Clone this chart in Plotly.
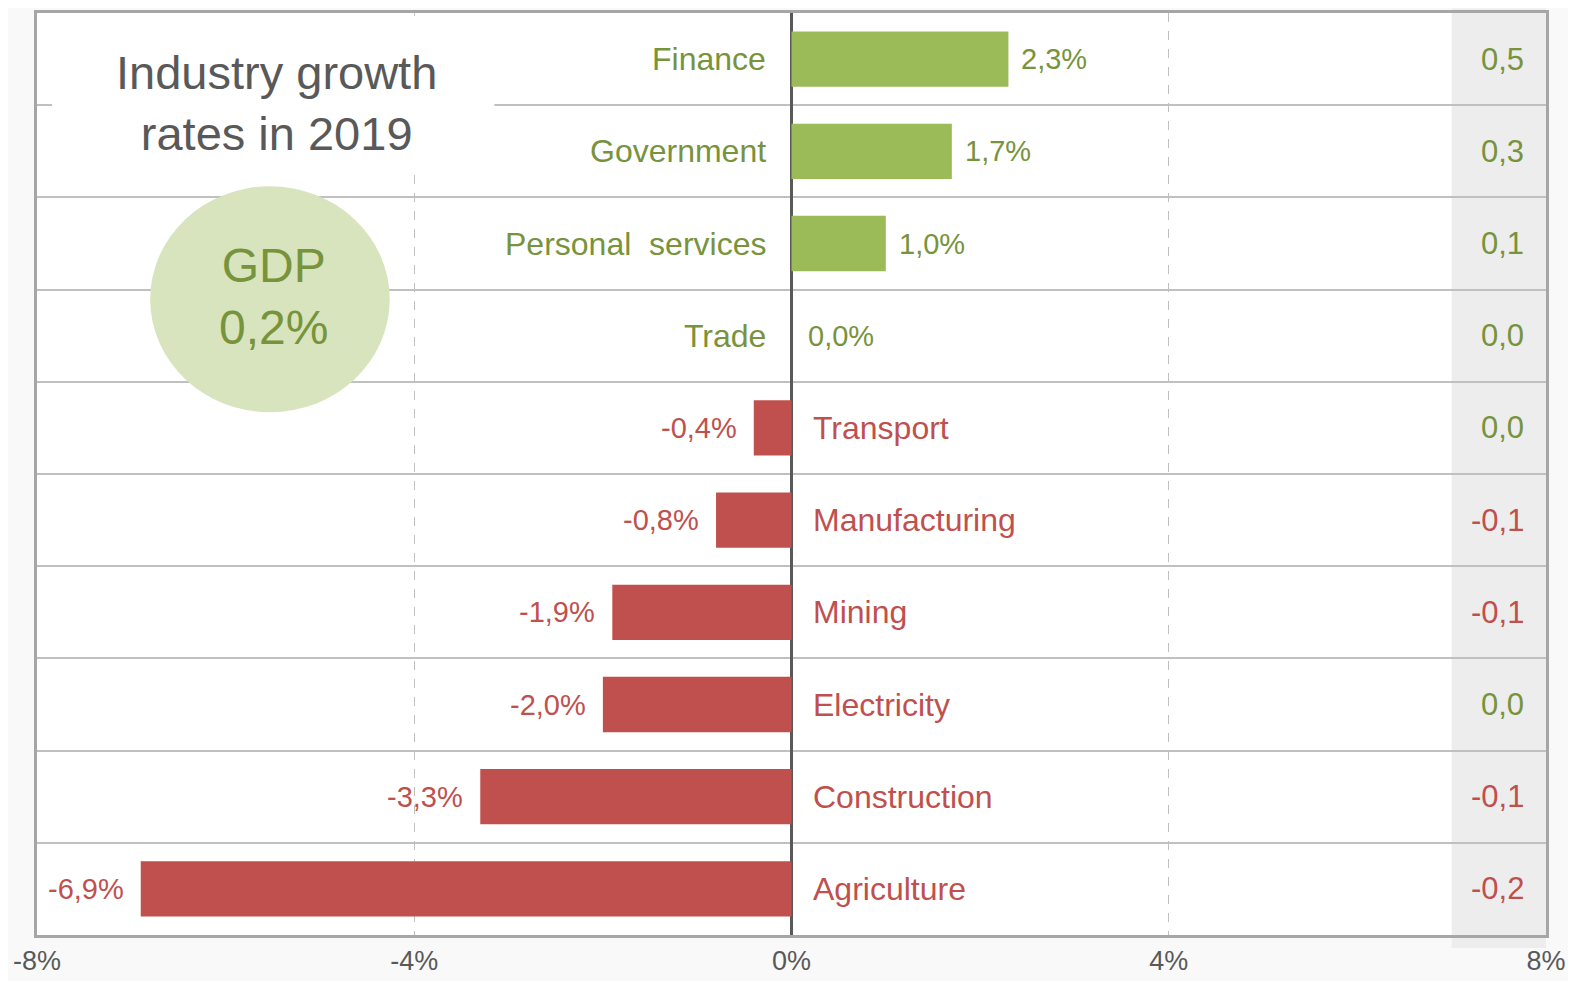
import plotly.graph_objects as go

# data
industries = ["Finance", "Government", "Personal  services", "Trade", "Transport",
              "Manufacturing", "Mining", "Electricity", "Construction", "Agriculture"]
growth = [2.3, 1.7, 1.0, 0.0, -0.4, -0.8, -1.9, -2.0, -3.3, -6.9]
contribution = [0.5, 0.3, 0.1, 0.0, 0.0, -0.1, -0.1, 0.0, -0.1, -0.2]
tick_vals = [-8, -4, 0, 4, 8]
tick_text = ["-8%", "-4%", "0%", "4%", "8%"]
gdp_growth = "0,2%"

GREEN_BAR = "#9bbb59"
GREEN_TXT = "#77933c"
RED = "#c0504d"
GREY_TXT = "#595959"
FONT = "Arial, Liberation Sans, sans-serif"


def fmt(v, pct=True):
    s = f"{v:.1f}".replace(".", ",")
    return s + "%" if pct else s


colors = [GREEN_BAR if v >= 0 else RED for v in growth]

fig = go.Figure(
    go.Bar(
        x=growth,
        y=industries,
        orientation="h",
        width=0.6,
        marker=dict(color=colors, line=dict(width=0)),
        hoverinfo="x+y",
    )
)

annotations = []
for name, v, c in zip(industries, growth, contribution):
    txt_col = GREEN_TXT if v >= 0 else RED
    # category label on the opposite side of the bar
    if v >= 0:
        annotations.append(dict(x=0, y=name, text=name, xanchor="right", xshift=-24,
                                showarrow=False, font=dict(size=32, color=txt_col)))
    else:
        annotations.append(dict(x=0, y=name, text=name, xanchor="left", xshift=19,
                                showarrow=False, font=dict(size=32, color=txt_col)))
    # value label at bar end
    if v > 0:
        annotations.append(dict(x=v, y=name, text=fmt(v), xanchor="left", xshift=11,
                                showarrow=False, font=dict(size=29, color=txt_col)))
    elif v < 0:
        annotations.append(dict(x=v, y=name, text=fmt(v), xanchor="right", xshift=-15,
                                showarrow=False, font=dict(size=29, color=txt_col)))
    else:
        annotations.append(dict(x=0, y=name, text=fmt(v), xanchor="left", xshift=14,
                                showarrow=False, font=dict(size=29, color=txt_col)))
    # contribution column on the right
    annotations.append(dict(x=7.79, y=name, text=fmt(c, pct=False), xanchor="right",
                            showarrow=False,
                            font=dict(size=31, color=GREEN_TXT if c >= 0 else RED)))

annotations.append(dict(x=-5.46, y=0.902, yref="paper", yanchor="middle",
                        text="Industry growth<br>rates in 2019",
                        showarrow=False, align="center",
                        font=dict(size=47, color=GREY_TXT)))
annotations.append(dict(x=-5.49, y=0.692, yref="paper", yanchor="middle",
                        text="GDP<br>" + gdp_growth,
                        showarrow=False, align="center",
                        font=dict(size=48, color=GREEN_TXT)))

shapes = [
    # grey contribution column
    dict(type="rect", xref="paper", yref="paper", x0=0.9375, x1=1.0, y0=-0.014, y1=1.005,
         fillcolor="#ededed", line=dict(width=0), layer="below"),
    # white box behind title, hiding the grid
    dict(type="rect", xref="x", yref="paper", x0=-7.84, x1=-3.15, y0=0.827, y1=0.997,
         fillcolor="white", line=dict(width=0), layer="above"),
    # GDP circle
    dict(type="circle", xref="x", yref="paper", x0=-6.8, x1=-4.26, y0=0.567, y1=0.812,
         fillcolor="#d7e4bd", line=dict(width=0), layer="above"),
]

fig.update_layout(
    width=1560,
    height=973,
    paper_bgcolor="#f9f9f9",
    plot_bgcolor="white",
    font=dict(family=FONT, color=GREY_TXT),
    margin=dict(l=29, r=20, t=2, b=46),
    showlegend=False,
    bargap=0.4,
    annotations=annotations,
    shapes=shapes,
    xaxis=dict(
        range=[-8, 8],
        tickvals=tick_vals,
        ticktext=tick_text,
        tickfont=dict(size=27, color=GREY_TXT),
        ticklabeloverflow="allow",
        showgrid=True,
        gridcolor="#c0c0c0",
        gridwidth=1.2,
        griddash="dash",
        zeroline=True,
        zerolinecolor="#595959",
        zerolinewidth=3,
        showline=True,
        linecolor="#a6a6a6",
        linewidth=3,
        mirror=True,
        ticks="",
        fixedrange=True,
    ),
    yaxis=dict(
        autorange="reversed",
        showticklabels=False,
        tickson="boundaries",
        showgrid=True,
        gridcolor="#c0c0c0",
        gridwidth=2,
        showline=True,
        linecolor="#a6a6a6",
        linewidth=3,
        mirror=True,
        ticks="",
        fixedrange=True,
    ),
)

fig.write_html("out.html")
